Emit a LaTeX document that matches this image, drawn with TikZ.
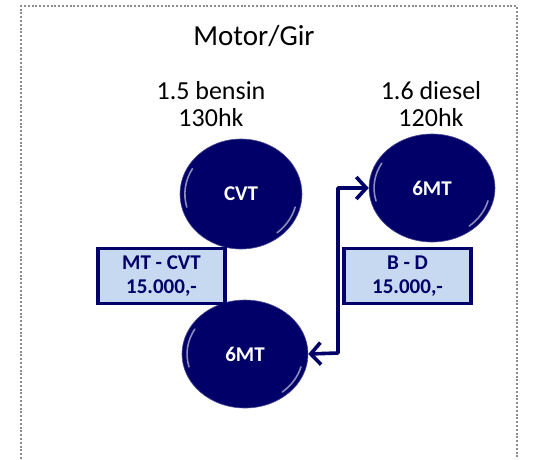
\documentclass[tikz,border=0pt]{standalone}
\usepackage{fontspec}
\setmainfont{Carlito}
\usetikzlibrary{shapes.geometric,arrows.meta,calc}
\definecolor{navy}{HTML}{000068}
\definecolor{boxfill}{HTML}{C6D9F1}
\definecolor{framegray}{HTML}{8C8C8C}
\tikzset{
  frame/.style={draw=framegray,line width=2.4pt,dash pattern=on 2pt off 1.8pt},
  ball/.style={ellipse,fill=navy,draw=navy!70!white,line width=0.6pt,inner sep=0pt,
    text=white,font=\fontsize{21}{22}\selectfont\bfseries},
  pricebox/.style={rectangle,draw=navy,fill=boxfill,line width=3.2pt,
    minimum width=127pt,minimum height=55pt,inner sep=0pt,align=center,
    text=navy,font=\fontsize{21}{24}\selectfont\bfseries},
  engine/.style={align=center,inner sep=0pt,font=\fontsize{26}{27}\selectfont},
  link/.style={draw=navy,line width=3.6pt,line cap=round,line join=round,
    {Straight Barb[length=10pt,width=22pt,line width=3.6pt]}-{Straight Barb[length=10pt,width=22pt,line width=3.6pt]}},
  shine/.style={white,opacity=0.55,line width=1.6pt,line cap=round}
}
\begin{document}
\begin{tikzpicture}[x=1pt,y=-1pt]
\useasboundingbox (0,0) rectangle (557,459);
\draw[frame] (21,459) -- (21,6) -- (517,6) -- (517,459);
\node[inner sep=0pt,font=\fontsize{29}{30}\selectfont] (title) at (254,36) {Motor/Gir};
\node[engine] (benz) at (211,104) {1.5 bensin\\130hk};
\node[engine] (dies) at (431,104) {1.6 diesel\\120hk};
\node[ball,minimum width=122pt,minimum height=110pt] (cvt) at (241,194) {CVT};
\node[ball,minimum width=126pt,minimum height=108pt] (tmt) at (432,188) {6MT};
\node[ball,minimum width=126pt,minimum height=108pt] (bmt) at (245,354) {6MT};
% glossy highlights
\foreach \n/\rx/\ry in {cvt/61/55,tmt/63/54,bmt/63/54}{
  \draw[shine] ($(\n.center)+({\rx*0.92*cos(150)},{-\ry*0.92*sin(150)})$) arc[start angle=150,end angle=195,x radius=\rx*0.92pt,y radius=\ry*0.92pt];
  \draw[shine] ($(\n.center)+({\rx*0.92*cos(310)},{-\ry*0.92*sin(310)})$) arc[start angle=310,end angle=345,x radius=\rx*0.92pt,y radius=\ry*0.92pt];
}
\node[pricebox] (mtcvt) at (161.5,276) {MT - CVT\\15.000,-};
\node[pricebox] (bd) at (407.5,276) {B - D\\15.000,-};
\coordinate (c1) at (338,353);
\coordinate (c2) at (338,188);
\draw[link] (bmt.east) -- (c1) -- (c2) -- (tmt.west);
\end{tikzpicture}
\end{document}
